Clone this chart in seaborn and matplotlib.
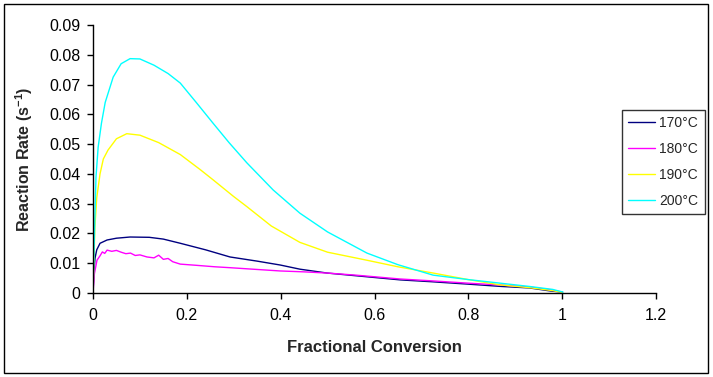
import matplotlib.pyplot as plt
import matplotlib.patches as mpatches
import pandas as pd
import seaborn as sns

# 200 C
x_200 = [0, 0.004, 0.0064, 0.011, 0.018, 0.026, 0.043, 0.06, 0.079, 0.1, 0.13, 0.16,
         0.186, 0.22, 0.256, 0.29, 0.328, 0.384, 0.441, 0.5, 0.584, 0.65, 0.725, 0.8,
         0.868, 0.93, 0.98, 1.002]
y_200 = [0, 0.025, 0.039, 0.049, 0.057, 0.064, 0.0725, 0.077, 0.0787, 0.0786, 0.0765,
         0.0737, 0.0705, 0.064, 0.057, 0.0505, 0.0437, 0.0346, 0.0268, 0.0205, 0.0134,
         0.0095, 0.006, 0.0045, 0.0033, 0.0022, 0.0012, 0.0003]

# 190 C
x_190 = [0, 0.004, 0.008, 0.015, 0.022, 0.032, 0.05, 0.072, 0.1, 0.14, 0.186, 0.228,
         0.256, 0.299, 0.328, 0.38, 0.441, 0.5, 0.584, 0.65, 0.725, 0.8, 0.868, 0.93,
         0.98, 1.0]
y_190 = [0, 0.022, 0.032, 0.04, 0.045, 0.048, 0.0518, 0.0535, 0.053, 0.0505, 0.0465,
         0.0415, 0.038, 0.0325, 0.029, 0.0225, 0.017, 0.0137, 0.011, 0.0088, 0.0067,
         0.0045, 0.0027, 0.0018, 0.0008, 0.0002]

# 170 C
x_170 = [0, 0.002, 0.0043, 0.008, 0.015, 0.03, 0.05, 0.079, 0.12, 0.15, 0.186, 0.24,
         0.292, 0.35, 0.399, 0.441, 0.499, 0.56, 0.655, 0.72, 0.797, 0.87, 0.93, 0.974,
         1.0]
y_170 = [0, 0.007, 0.0117, 0.0145, 0.0167, 0.0178, 0.0184, 0.0188, 0.0187, 0.0181,
         0.0167, 0.0145, 0.0121, 0.0107, 0.0094, 0.008, 0.0067, 0.0058, 0.0044, 0.0038,
         0.003, 0.0022, 0.0017, 0.0007, 0.0003]

# 180 C (noisy trace)
x_180 = [0, 0.003, 0.0085, 0.015, 0.02, 0.025, 0.03, 0.04, 0.05, 0.06, 0.07, 0.08, 0.09,
         0.1, 0.115, 0.13, 0.14, 0.15, 0.16, 0.17, 0.186, 0.22, 0.26, 0.292, 0.35, 0.399,
         0.45, 0.499, 0.56, 0.655, 0.72, 0.8, 0.868, 0.93, 0.97, 1.0]
y_180 = [0, 0.0065, 0.011, 0.0125, 0.0138, 0.0133, 0.0144, 0.014, 0.0143, 0.0137,
         0.0132, 0.0134, 0.0126, 0.0128, 0.0121, 0.0118, 0.0127, 0.0113, 0.0116, 0.0105,
         0.0097, 0.0093, 0.0088, 0.0085, 0.0079, 0.0074, 0.0071, 0.0067, 0.006, 0.0047,
         0.0041, 0.0033, 0.0027, 0.002, 0.0012, 0.0003]

labels = ["170°C", "180°C", "190°C", "200°C"]
colors = ["#000080", "#ff00ff", "#ffff00", "#00ffff"]
xticks = [0, 0.2, 0.4, 0.6, 0.8, 1, 1.2]
yticks = [0, 0.01, 0.02, 0.03, 0.04, 0.05, 0.06, 0.07, 0.08, 0.09]

series = {"170°C": (x_170, y_170), "180°C": (x_180, y_180),
          "190°C": (x_190, y_190), "200°C": (x_200, y_200)}
rows = []
for name, (xs, ys) in series.items():
    for xv, yv in zip(xs, ys):
        rows.append({"conv": xv, "rate": yv, "T": name})
df = pd.DataFrame(rows)

sns.set_style("white")
plt.rcParams["font.family"] = ["Liberation Sans", "DejaVu Sans"]
plt.rcParams["mathtext.fontset"] = "custom"
plt.rcParams["mathtext.rm"] = "Liberation Sans"
plt.rcParams["mathtext.bf"] = "Liberation Sans:bold"

fig = plt.figure(figsize=(7.13, 3.77), dpi=100)
ax = fig.add_axes([93 / 713, 1 - 293 / 377, (656 - 93) / 713, (293 - 25) / 377])

sns.lineplot(data=df, x="conv", y="rate", hue="T", hue_order=labels,
             palette=dict(zip(labels, colors)), sort=False, estimator=None,
             linewidth=1.0, ax=ax, legend=False)

ax.set_xlim(0, 1.2)
ax.set_ylim(0, 0.09)
ax.set_xticks(xticks)
ax.set_yticks(yticks)
ax.set_xticklabels(["%g" % t for t in xticks])
ax.set_yticklabels(["%g" % t for t in yticks])
ax.tick_params(axis="both", direction="out", length=4, width=1, labelsize=11.5,
               colors="black", bottom=True, left=True)
ax.tick_params(axis="x", pad=7)
ax.tick_params(axis="y", pad=5)
for s in ["top", "right"]:
    ax.spines[s].set_visible(False)
for s in ["left", "bottom"]:
    ax.spines[s].set_color("black")
    ax.spines[s].set_linewidth(1.0)

ax.set_xlabel("Fractional Conversion", fontsize=12, fontweight="bold", labelpad=12)
ax.set_ylabel(r"Reaction Rate (s$^{\mathbf{-1}}$)", fontsize=11.5, fontweight="bold",
              labelpad=10)

handles = [plt.Line2D([], [], color=c, lw=1.0) for c in colors]
leg = fig.legend(handles, labels, loc="upper left",
                 bbox_to_anchor=(622 / 713, 1 - 110 / 377),
                 bbox_transform=fig.transFigure, borderaxespad=0,
                 fancybox=False, frameon=True, fontsize=10, handlelength=1.9,
                 labelspacing=0.85, borderpad=0.45, handletextpad=0.35)
leg.get_frame().set_edgecolor("black")
leg.get_frame().set_linewidth(1.0)

fig.patches.append(mpatches.Rectangle((4 / 713, 4 / 377), 704 / 713, 369 / 377,
                                      transform=fig.transFigure, fill=False,
                                      edgecolor="black", linewidth=1.0))

plt.savefig("out.png", dpi=100)
